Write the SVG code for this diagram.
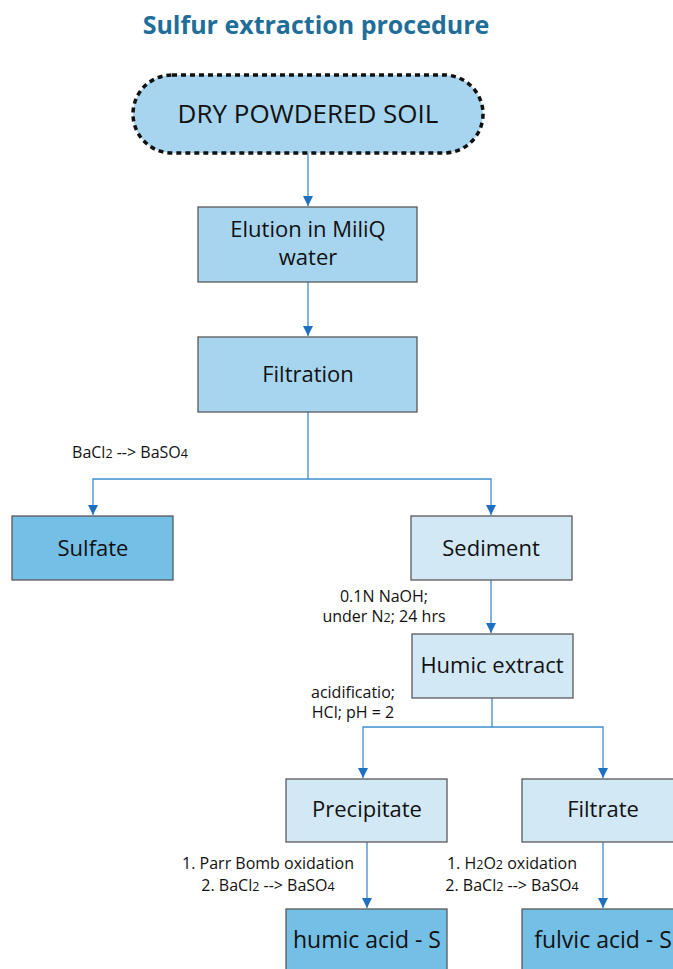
<svg xmlns="http://www.w3.org/2000/svg" width="673" height="969" viewBox="0 0 673 969">
<defs>
<style>
.t{font-family:"Open Sans","Noto Sans","Liberation Sans",sans-serif;fill:#111;text-anchor:middle}
.n{font-size:22px}
.l{font-size:16px}
.box{stroke:#595959;stroke-width:1.3}
.dark{fill:#74BFE6}
.mid{fill:#A7D5EF}
.light{fill:#D2E8F5}
.c{fill:none;stroke:#3F8DD0;stroke-width:1.3}
.s{font-size:12.5px}
</style>
<marker id="a" viewBox="0 0 10 10" refX="10" refY="5" markerWidth="10" markerHeight="10" markerUnits="userSpaceOnUse" orient="auto">
<path d="M0,0 L10,5 L0,10 z" fill="#1F70C0"/>
</marker>
</defs>
<rect width="673" height="969" fill="#fff"/>
<text x="316" y="34" font-family="'Open Sans','Noto Sans',sans-serif" font-weight="bold" font-size="25" fill="#1F6E99" text-anchor="middle">Sulfur extraction procedure</text>

<g id="connectors">
<path class="c" d="M308,153 V206" marker-end="url(#a)"/>
<path class="c" d="M308,282 V336" marker-end="url(#a)"/>
<path class="c" d="M308,412 V479 H93 V515" marker-end="url(#a)"/>
<path class="c" d="M308,479 H491 V515" marker-end="url(#a)"/>
<path class="c" d="M491,580 V633" marker-end="url(#a)"/>
<path class="c" d="M492,698 V727 H363 V778" marker-end="url(#a)"/>
<path class="c" d="M492,727 H603 V778" marker-end="url(#a)"/>
<path class="c" d="M367,842 V908" marker-end="url(#a)"/>
<path class="c" d="M603,842 V908" marker-end="url(#a)"/>
</g>

<g id="labels">
<text class="t l" x="130" y="458">BaCl<tspan class="s">2</tspan> --&gt; BaSO<tspan class="s">4</tspan></text>
<text class="t l" x="384" y="602">0.1N NaOH;</text>
<text class="t l" x="384" y="622">under N<tspan class="s">2</tspan>; 24 hrs</text>
<text class="t l" x="353" y="698">acidificatio;</text>
<text class="t l" x="353" y="718">HCl; pH = 2</text>
<text class="t l" x="268" y="869">1. Parr Bomb oxidation</text>
<text class="t l" x="268" y="891">2. BaCl<tspan class="s">2</tspan> --&gt; BaSO<tspan class="s">4</tspan></text>
<text class="t l" x="512" y="869">1. H<tspan class="s">2</tspan>O<tspan class="s">2</tspan> oxidation</text>
<text class="t l" x="512" y="891">2. BaCl<tspan class="s">2</tspan> --&gt; BaSO<tspan class="s">4</tspan></text>
</g>

<g id="soil">
<rect x="133" y="75" width="350" height="78" rx="39" fill="#A7D5EF" stroke="#111" stroke-width="3.5" stroke-dasharray="5,4"/>
<text class="t" x="308" y="123" font-size="26">DRY POWDERED SOIL</text>
</g>
<g id="elution">
<rect class="box mid" x="198" y="207" width="219" height="75"/>
<text class="t n" x="308" y="237">Elution in MiliQ</text>
<text class="t n" x="308" y="265">water</text>
</g>
<g id="filtration">
<rect class="box mid" x="198" y="337" width="219" height="75"/>
<text class="t n" x="308" y="382">Filtration</text>
</g>
<g id="sulfate">
<rect class="box dark" x="12" y="516" width="161" height="64"/>
<text class="t n" x="93" y="556">Sulfate</text>
</g>
<g id="sediment">
<rect class="box light" x="411" y="516" width="161" height="64"/>
<text class="t n" x="491" y="556">Sediment</text>
</g>
<g id="humic-extract">
<rect class="box light" x="412" y="634" width="161" height="64"/>
<text class="t n" x="492" y="673">Humic extract</text>
</g>
<g id="precipitate">
<rect class="box light" x="286" y="779" width="161" height="63"/>
<text class="t n" x="367" y="817">Precipitate</text>
</g>
<g id="filtrate">
<rect class="box light" x="522" y="779" width="161" height="63"/>
<text class="t n" x="603" y="817">Filtrate</text>
</g>
<g id="humic-acid">
<rect class="box dark" x="286" y="909" width="161" height="70"/>
<text class="t" x="367" y="948" font-size="23">humic acid - S</text>
</g>
<g id="fulvic-acid">
<rect class="box dark" x="522" y="909" width="161" height="70"/>
<text class="t" x="603" y="948" font-size="23">fulvic acid - S</text>
</g>
</svg>
